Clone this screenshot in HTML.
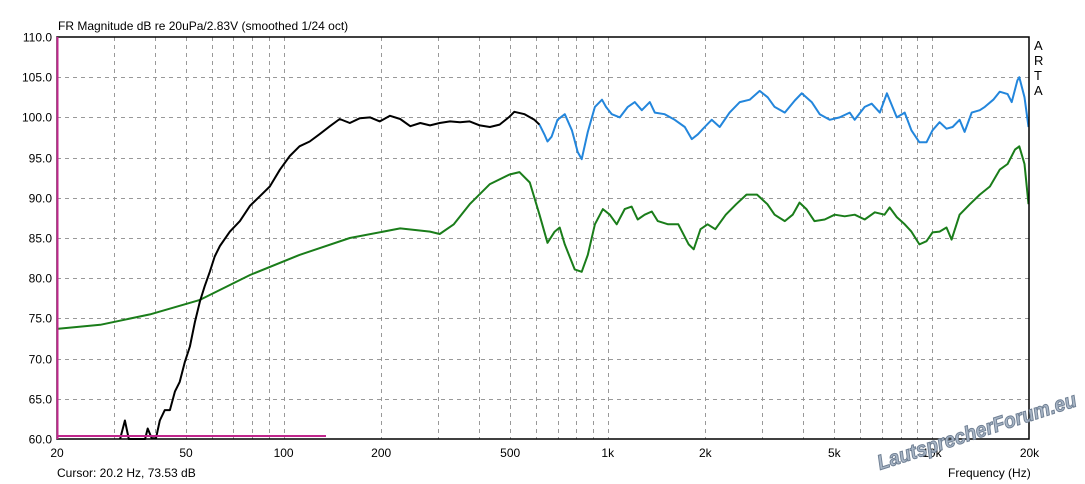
<!DOCTYPE html>
<html><head><meta charset="utf-8"><style>
html,body{margin:0;padding:0;background:#fff;}
svg{display:block;font-family:"Liberation Sans",Arial,sans-serif;}
</style></head><body>
<svg id="chart" width="1085" height="484" viewBox="0 0 1085 484">
<rect x="0" y="0" width="1085" height="484" fill="#fff"/>
<g id="grid"></g>
<g id="series"></g>
<rect x="57" y="37" width="972" height="402" fill="none" stroke="#000" stroke-width="1.5"/>
<line x1="57.5" y1="37" x2="57.5" y2="439" stroke="#c0268c" stroke-width="2"/>
<line x1="57" y1="436" x2="326" y2="436" stroke="#c0268c" stroke-width="2"/>
<g id="labels" font-size="12" fill="#000"></g>
<text x="58" y="30" font-size="12">FR Magnitude dB re 20uPa/2.83V (smoothed 1/24 oct)</text>
<text x="57" y="477" font-size="12">Cursor: 20.2 Hz, 73.53 dB</text>
<text x="948" y="477" font-size="12">Frequency (Hz)</text>
<g font-size="13">
<text x="1034" y="50">A</text><text x="1034" y="65">R</text><text x="1034" y="80">T</text><text x="1034" y="95">A</text>
</g>
<text x="880" y="470" font-size="21" font-weight="bold" font-style="italic" fill="#a9b6c6" stroke="#6f7f93" stroke-width="1" textLength="208" lengthAdjust="spacingAndGlyphs" transform="rotate(-18 880 470)">LautsprecherForum.eu</text>
</svg>
<script>
const blackFreq=[31.3,32.4,33.3,37.4,38.1,39.2,40.4,41.5,43.0,44.6,46.2,47.8,49.6,51.4,53.3,55.2,57.1,59.2,61.3,63.6,68.3,73.3,78.8,84.5,90.7,97.4,104.5,112,120.4,129,139,149,160,172,185,198,213,229,246,264,283,303,326,350,375,403,433,464,498,515,554,594,616];
const blackDb=[60.0,62.3,60.0,60.0,61.3,60.1,60.1,62.3,63.6,63.6,65.9,67.1,69.6,71.5,74.6,77.1,79.0,80.8,82.7,84.0,85.8,87.1,89.0,90.2,91.4,93.5,95.2,96.4,97.0,97.9,98.9,99.8,99.3,99.9,100.0,99.5,100.2,99.8,98.9,99.3,99.0,99.3,99.5,99.4,99.5,99.0,98.8,99.1,100.1,100.7,100.4,99.7,99.1];
const blueFreq=[616,639,652,671,700,737,775,808,831,868,913,960,988,1029,1089,1153,1212,1274,1348,1397,1499,1609,1728,1817,1897,1991,2092,2215,2377,2554,2740,2943,3115,3272,3516,3776,3965,4256,4506,4839,5192,5576,5779,6205,6519,6905,7261,7792,8240,8641,9151,9620,10045,10560,11090,11580,12170,12610,13270,14050,14560,15460,16180,17120,17620,18350,18600,19300,19860];
const blueDb=[99.1,97.8,97.0,97.6,99.7,100.4,98.4,95.7,94.8,98.2,101.3,102.2,101.3,100.4,100.0,101.3,101.9,100.9,101.9,100.6,100.4,99.7,98.8,97.3,97.9,98.8,99.7,98.8,100.6,101.9,102.2,103.3,102.5,101.3,100.6,102.1,103.0,101.9,100.4,99.7,100.0,100.6,99.7,101.3,101.7,100.6,103.0,100.0,100.6,98.4,96.9,96.9,98.4,99.4,98.6,98.8,99.7,98.2,100.6,100.9,101.3,102.2,103.2,102.9,101.9,104.6,105.0,102.5,98.8];
const greenFreq=[20,27.2,38.7,55.2,78.8,112,160,229,283,303,335,375,433,498,534,575,616,652,686,711,737,791,831,868,913,966,1015,1066,1128,1185,1237,1300,1367,1427,1535,1650,1777,1841,1933,2032,2147,2313,2490,2680,2886,3107,3272,3516,3719,3904,4101,4341,4668,5014,5384,5779,6205,6664,7142,7404,7792,8240,8641,9151,9620,10045,10560,11090,11500,12170,13100,14050,15100,16180,17120,18040,18600,19300,19860];
const greenDb=[73.7,74.2,75.5,77.3,80.4,82.9,85.0,86.2,85.8,85.5,86.7,89.2,91.7,92.9,93.2,91.9,87.9,84.4,85.8,86.3,84.2,81.1,80.8,82.9,86.7,88.6,87.9,86.7,88.6,88.9,87.3,87.9,88.3,87.1,86.7,86.7,84.2,83.6,86.1,86.7,86.1,87.9,89.2,90.4,90.4,89.2,87.9,87.1,87.9,89.4,88.6,87.1,87.3,87.9,87.7,87.9,87.3,88.2,87.9,88.8,87.6,86.7,85.8,84.2,84.6,85.7,85.8,86.3,84.8,87.9,89.2,90.4,91.4,93.5,94.2,96.0,96.4,94.2,89.2];
const xTickVals=[20,50,100,200,500,1000,2000,5000,10000,20000];
const xTickLabels=["20","50","100","200","500","1k","2k","5k","10k","20k"];
const yTickVals=[60,65,70,75,80,85,90,95,100,105,110];

const X0=57,X1=1029.5,Y0=439,Y1=37,FMIN=20,FMAX=20000,DBMIN=60,DBMAX=110;
function xs(f){return X0+(X1-X0)*Math.log10(f/FMIN)/Math.log10(FMAX/FMIN);}
function ys(d){return Y0-(Y0-Y1)*(d-DBMIN)/(DBMAX-DBMIN);}
const NS="http://www.w3.org/2000/svg";
const grid=document.getElementById('grid'),labels=document.getElementById('labels'),series=document.getElementById('series');
function mk(t,a){const e=document.createElementNS(NS,t);for(const k in a)e.setAttribute(k,a[k]);return e;}
for(let dec=10;dec<=10000;dec*=10){for(let m=1;m<=9;m++){const f=dec*m;if(f<=FMIN||f>=FMAX)continue;
 const x=Math.round(xs(f))+0.5;const l=mk('line',{x1:x,x2:x,y1:Y1,y2:Y0,stroke:'#999','stroke-width':1,'stroke-dasharray':'4,4'});
 
 
 grid.appendChild(l);}}
yTickVals.forEach(v=>{const y=Math.round(ys(v))+0.5;
 if(v>DBMIN&&v<DBMAX){const l=mk('line',{x1:X0,x2:X1,y1:y,y2:y,stroke:'#999','stroke-width':1,'stroke-dasharray':'4,4'});
 
 
 grid.appendChild(l);}
 const t=mk('text',{x:52,y:y+4,'text-anchor':'end'});t.textContent=v.toFixed(1);
 
 
 labels.appendChild(t);});
xTickVals.forEach((v,i)=>{const t=mk('text',{x:xs(v),y:457,'text-anchor':'middle'});t.textContent=xTickLabels[i];
 
 
 labels.appendChild(t);});
function line(fr,db,color,name){const d=fr.map((f,i)=>(i?'L':'M')+xs(f).toFixed(1)+','+ys(db[i]).toFixed(1)).join('');
 const p=mk('path',{d:d,fill:'none',stroke:color,'stroke-width':2,'stroke-linejoin':'round'});
 
 
 series.appendChild(p);}
line(greenFreq,greenDb,'#1a7d1a','green-response-line');
line(blueFreq,blueDb,'#2386dc','blue-response-line');
line(blackFreq,blackDb,'#000','black-response-line');
</script>
</body></html>
